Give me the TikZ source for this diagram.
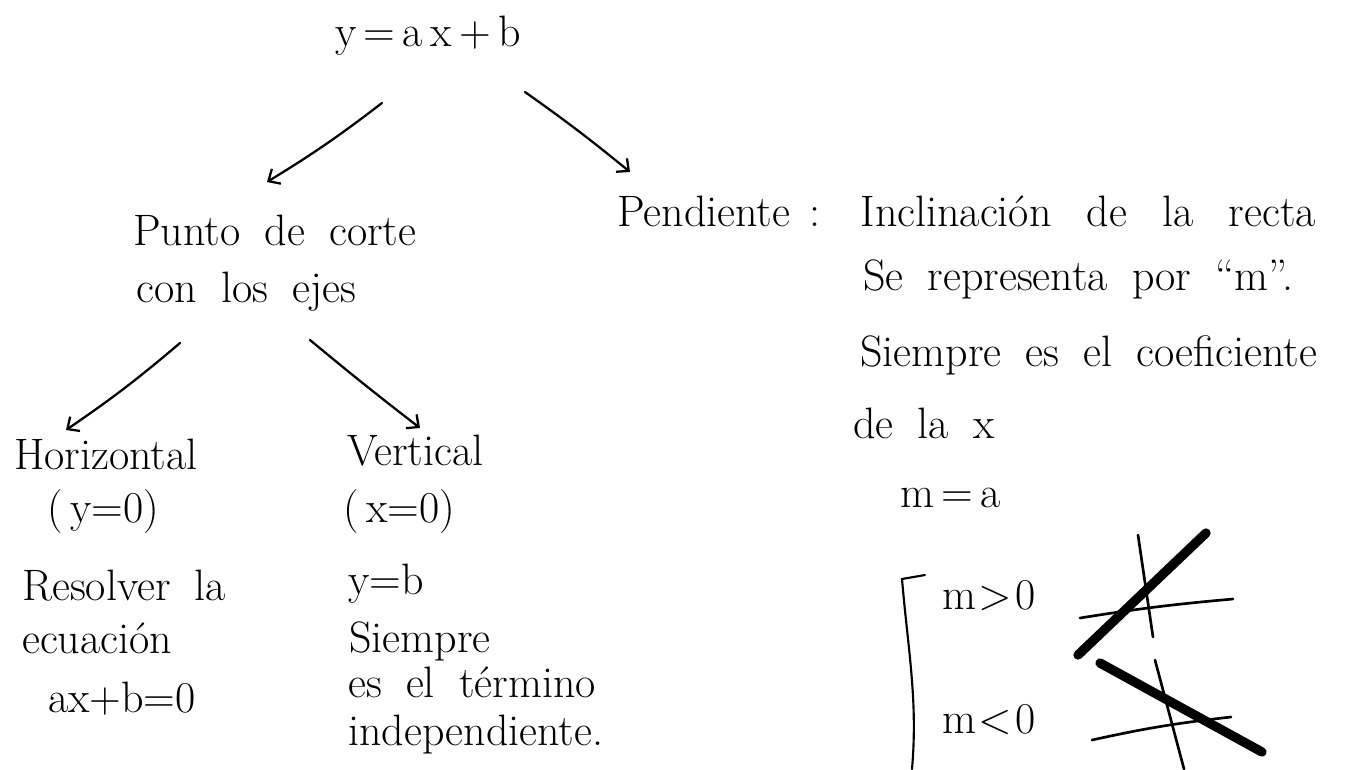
\documentclass[tikz,border=0pt]{standalone}
\usepackage{fontspec}
\usetikzlibrary{arrows.meta}
\newlength{\hwgap}
\begin{document}
\begin{tikzpicture}[x=0.75pt,y=-0.75pt,
  txt/.style={anchor=base west,inner sep=0pt,font=\fontsize{33}{40}\selectfont,
    execute at begin node={\setlength{\hwgap}{0.55em}\spaceskip=\hwgap}},
  wide/.style={execute at begin node={\setlength{\hwgap}{0.8em}\spaceskip=\hwgap}},
  arr/.style={line width=1.7pt,line cap=round,-{Straight Barb[length=7pt,width=13pt,line width=1.7pt]}},
  thinln/.style={line width=2pt,line cap=round},
  thickln/.style={line width=7pt,line cap=round},
  brk/.style={line width=1.6pt,line cap=round}]
\useasboundingbox (0,0) rectangle (1346,769);
% top
\node[txt] (eq) at (335,46) {y\,=\,a\,x\,+\,b};
% level 2 left
\node[txt] (punto) at (133,245) {Punto de corte};
\node[txt] (conlos) at (136,302) {con los ejes};
% level 2 right
\node[txt,wide] (pend) at (617,226) {Pendiente\kern0.45em: Inclinación de la recta};
\node[txt] (serep) at (863,290) {Se representa por ``m''.};
\node[txt] (siem) at (860,366) {Siempre es el coeficiente};
\node[txt] (dela) at (853,438) {de la x};
\node[txt] (ma) at (900,507) {m\,=\,a};
\node[txt] (mpos) at (942,609) {m\kern2pt>\kern2pt0};
\node[txt] (mneg) at (942,733) {m\kern2pt<\kern2pt0};
% level 3 left
\node[txt] (hor) at (14,469) {Horizontal};
\node[txt] (yz) at (47,522) {(\,y=0)};
\node[txt] (reso) at (22,600) {Resolver la};
\node[txt] (ecu) at (22,653) {ecuación};
\node[txt] (axb) at (48,712) {ax+b=0};
% level 3 right
\node[txt] (vert) at (347,465) {Vertical};
\node[txt] (xz) at (343,522) {(\,x=0)};
\node[txt] (yb) at (348,594) {y=b};
\node[txt] (siem2) at (349,652) {Siempre};
\node[txt] (term) at (348,697) {es el término};
\node[txt] (indep) at (348,745) {independiente.};
% arrows
\coordinate (a1s) at (382,103); \coordinate (a1e) at (267,182);
\coordinate (a2s) at (525,92);  \coordinate (a2e) at (630,172);
\coordinate (a3s) at (180,343); \coordinate (a3e) at (66,430);
\coordinate (a4s) at (310,340); \coordinate (a4e) at (420,428);
\draw[arr] (a1s) to[bend left=3] (a1e);
\draw[arr] (a2s) to[bend left=2] (a2e);
\draw[arr] (a3s) to[bend left=3] (a3e);
\draw[arr] (a4s) to[bend right=1] (a4e);
% bracket
\coordinate (b1) at (925,575); \coordinate (b2) at (902,579); \coordinate (b3) at (912,769);
\draw[brk] (b1) -- (b2) .. controls (908,650) and (918,700) .. (b3);
% graph 1
\coordinate (g1v1) at (1138,535); \coordinate (g1v2) at (1153,637);
\coordinate (g1h1) at (1080,618); \coordinate (g1h2) at (1233,599);
\coordinate (g1t1) at (1078,655); \coordinate (g1t2) at (1206,533);
\draw[thinln] (g1v1) -- (g1v2);
\draw[thinln] (g1h1) to[bend left=2] (g1h2);
\draw[thickln] (g1t1) -- (g1t2);
% graph 2
\coordinate (g2v1) at (1155,660); \coordinate (g2v2) at (1184,769);
\coordinate (g2h1) at (1092,740); \coordinate (g2h2) at (1231,717);
\coordinate (g2t1) at (1100,663); \coordinate (g2t2) at (1262,752);
\draw[thinln] (g2v1) -- (g2v2);
\draw[thinln] (g2h1) to[bend left=3] (g2h2);
\draw[thickln] (g2t1) -- (g2t2);
\end{tikzpicture}
\end{document}
